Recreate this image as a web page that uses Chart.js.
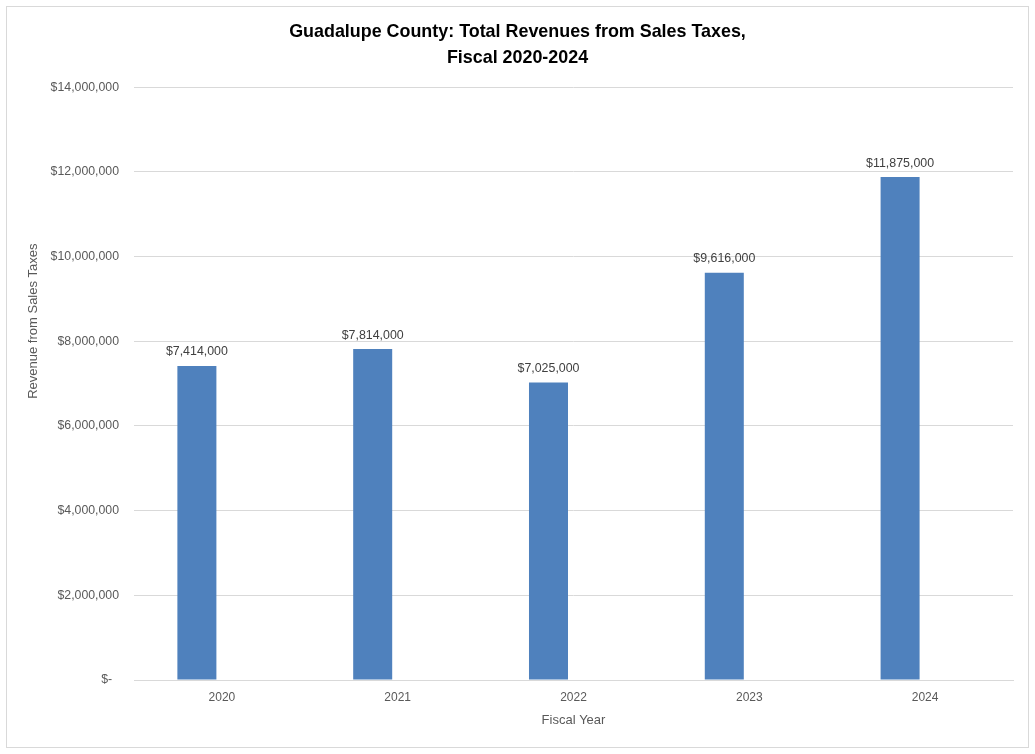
<!DOCTYPE html>
<html>
<head>
<meta charset="utf-8">
<script src="https://cdn.jsdelivr.net/npm/chart.js@4.4.1/dist/chart.umd.min.js"></script>
<style>
  html, body { margin: 0; padding: 0; background: #fff; }
  #wrap {
    position: absolute; left: 6px; top: 6px;
    width: 1023px; height: 742px;
    box-sizing: border-box; border: 1px solid #d9d9d9;
  }
</style>
</head>
<body>
<div id="wrap"><canvas id="salesTaxChart"></canvas></div>
<script>
// Fiscal years and revenues
const fiscalYears = ['2020', '2021', '2022', '2023', '2024'];
const salesTaxRevenue = [7414000, 7814000, 7025000, 9616000, 11875000];
// empty second series - Excel left room for it, which is why the bars sit left of centre
const emptySeries = [null, null, null, null, null];
const yMin = 0;
const yMax = 14000000;
const yStep = 2000000;

const titleLines = ['Guadalupe County: Total Revenues from Sales Taxes,', 'Fiscal 2020-2024'];
const yAxisTitle = 'Revenue from Sales Taxes';
const xAxisTitle = 'Fiscal Year';

const FONT = "'Liberation Sans', Arial, sans-serif";
const GREY_TEXT = '#595959';

function formatDollars(value) {
    if (value === 0) return '$-  ';
    return '$' + Number(value).toLocaleString('en-US');
}

// Writes the value above each bar
const barLabels = {
    id: 'barLabels',
    afterDatasetsDraw(chart) {
        const ctx = chart.ctx;
        const meta = chart.getDatasetMeta(0);
        ctx.save();
        ctx.font = '12.4px ' + FONT;
        ctx.fillStyle = '#404040';
        ctx.textAlign = 'center';
        ctx.textBaseline = 'middle';
        meta.data.forEach((bar, i) => {
            ctx.fillText(formatDollars(salesTaxRevenue[i]), bar.x, bar.y - 14);
        });
        ctx.restore();
    }
};

// The y title in the reference sits above the middle of the axis, so it is drawn by hand
const yTitle = {
    id: 'yTitle',
    afterDraw(chart) {
        const ctx = chart.ctx;
        ctx.save();
        ctx.translate(26, chart.chartArea.top + 234);
        ctx.rotate(-Math.PI / 2);
        ctx.font = '13px ' + FONT;
        ctx.fillStyle = GREY_TEXT;
        ctx.textAlign = 'center';
        ctx.textBaseline = 'middle';
        ctx.fillText(yAxisTitle, 0, 0);
        ctx.restore();
    }
};

const ctx = document.getElementById('salesTaxChart').getContext('2d');
const salesChart = new Chart(ctx, {
    type: 'bar',
    data: {
        labels: fiscalYears,
        datasets: [
            {
                label: 'Revenue',
                data: salesTaxRevenue,
                backgroundColor: '#4f81bd',
                borderWidth: 0,
                categoryPercentage: 0.569,
                barPercentage: 0.78
            },
            {
                label: 'Series 2',
                data: emptySeries,
                backgroundColor: '#c0504d',
                categoryPercentage: 0.569,
                barPercentage: 0.78
            }
        ]
    },
    options: {
        responsive: true,
        maintainAspectRatio: false,
        animation: false,
        layout: {
            // equal side padding keeps the title centred on the whole chart
            padding: { left: 15, right: 15, top: 0, bottom: 0 }
        },
        plugins: {
            legend: { display: false },
            tooltip: { enabled: false },
            title: {
                display: true,
                text: titleLines,
                color: '#000',
                font: { family: FONT, size: 17.9, weight: 'bold', lineHeight: 1.4 },
                padding: { top: 13, bottom: 17 }
            }
        },
        scales: {
            x: {
                grid: { display: false },
                border: { display: true, color: '#d9d9d9' },
                ticks: {
                    color: GREY_TEXT,
                    font: { family: FONT, size: 12 },
                    padding: 2
                },
                title: {
                    display: true,
                    text: xAxisTitle,
                    color: GREY_TEXT,
                    font: { family: FONT, size: 13 },
                    padding: { top: 0, bottom: 18.5 }
                },
                afterFit: function(scale) {
                    scale.height = 67;
                }
            },
            y: {
                min: yMin,
                max: yMax,
                border: { display: false },
                grid: {
                    color: '#d9d9d9',
                    drawTicks: false
                },
                ticks: {
                    stepSize: yStep,
                    color: GREY_TEXT,
                    font: { family: FONT, size: 12.3 },
                    padding: 15,
                    callback: function(value) {
                        return formatDollars(value);
                    }
                },
                afterFit: function(scale) {
                    scale.width = 112;
                }
            }
        }
    },
    plugins: [barLabels, yTitle]
});
</script>
</body>
</html>
